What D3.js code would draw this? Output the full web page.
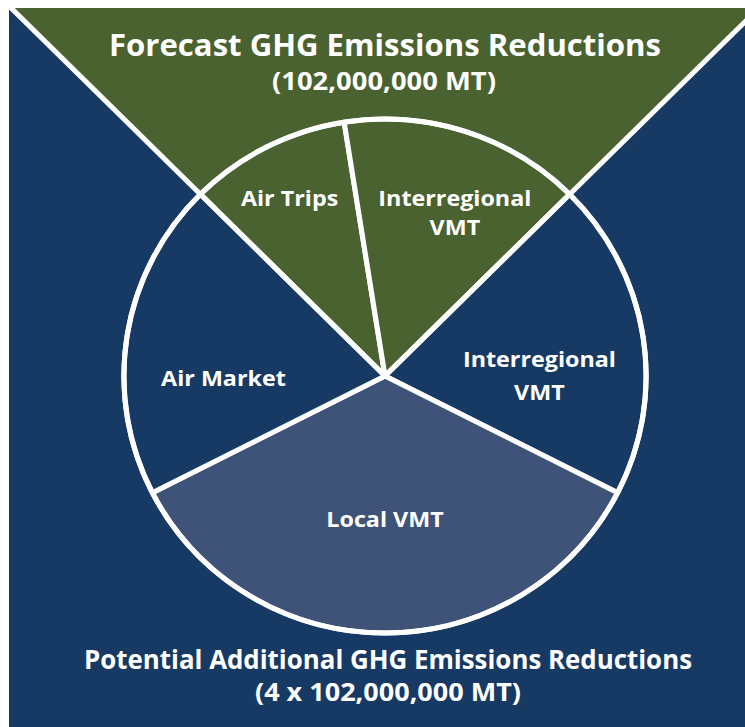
<!DOCTYPE html>
<html><head><meta charset="utf-8">
<script src="https://cdn.jsdelivr.net/npm/d3@7"></script>
<style>html,body{margin:0;padding:0;background:#fff;overflow:hidden} svg{display:block}</style>
</head><body><script>
// ---- data ----
const categories = ["Air Trips", "Interregional VMT", "Interregional VMT", "Local VMT", "Air Market"];
const labelLines = [["Air Trips"], ["Interregional", "VMT"], ["Interregional", "VMT"], ["Local VMT"], ["Air Market"]];
const shares = [10, 15, 20, 35, 20];            // percent of the circle
const groups = ["forecast", "forecast", "potential", "local", "potential"];
const topTitle = ["Forecast GHG Emissions Reductions", "(102,000,000 MT)"];
const bottomTitle = ["Potential Additional GHG Emissions Reductions", "(4 x 102,000,000 MT)"];

// ---- layout / style ----
const W = 745, H = 727;
const panel = {x: 9, y: 8, w: W - 9, h: H - 8};
const colors = {forecast: "#4a6230", potential: "#173a64", local: "#3f5378"};
const cx = 385, cy = 376, r = 257, sx = 1.016;
const labelAngleDeg = [-28, 23, 90, 180, -91];
const labelRadius = [200, 176, 152, 144, 159];
const labelLineH = [0, 29, 33, 0, 0];
const FONT = "'Open Sans', 'DejaVu Sans', sans-serif";

const svg = d3.select("body").append("svg").attr("width", W).attr("height", H);
svg.append("defs").append("clipPath").attr("id", "pclip")
  .append("rect").attr("x", panel.x).attr("y", panel.y).attr("width", panel.w).attr("height", panel.h);

const root = svg.append("g").attr("clip-path", "url(#pclip)");
root.append("rect").attr("x", panel.x).attr("y", panel.y).attr("width", panel.w).attr("height", panel.h)
  .attr("fill", colors.potential);

const g = root.append("g").attr("transform", `translate(${cx},${cy}) scale(${sx},1)`);

// forecast triangle (apex at the circle centre, along the ±45° slice edges)
const far = 900;
g.append("path")
  .attr("d", d3.line()([[0, 0], [-far, -far], [far, -far]]) + "Z")
  .attr("fill", colors.forecast);

// pie
const pie = d3.pie().sort(null).value(d => d)
  .startAngle(-Math.PI / 4).endAngle(7 * Math.PI / 4);
const arcs = pie(shares);
const arc = d3.arc().innerRadius(0).outerRadius(r);
g.selectAll("path.slice").data(arcs).join("path")
  .attr("class", "slice")
  .attr("d", arc)
  .attr("fill", (d, i) => colors[groups[i]])
  .attr("stroke", "#fff").attr("stroke-width", 5).attr("stroke-linejoin", "round");

// triangle edges extending beyond circle
[-1, 1].forEach(s => {
  g.append("line").attr("x1", 0).attr("y1", 0).attr("x2", s * far).attr("y2", -far)
    .attr("stroke", "#fff").attr("stroke-width", 5);
});
g.append("ellipse").attr("cx", 0).attr("cy", 0).attr("rx", r).attr("ry", r)
  .attr("fill", "none").attr("stroke", "#fff").attr("stroke-width", 5);

function addText(x, y, str, size, width) {
  const t = root.append("text").attr("x", x).attr("y", y)
    .attr("text-anchor", "middle").attr("fill", "#fff")
    .attr("font-family", FONT).attr("font-weight", 700).attr("font-size", size)
    .text(str);
  if (width) t.attr("textLength", width).attr("lengthAdjust", "spacingAndGlyphs");
  return t;
}

// titles
addText(385, 56, topTitle[0], 31, 552);
addText(384, 90, topTitle[1], 25, 224);
addText(388, 669, bottomTitle[0], 27, 608);
addText(388, 701, bottomTitle[1], 25, 266);

// slice labels (condensed so "Interregional" spans ~153px)
const labelTexts = [];
arcs.forEach((d, i) => {
  const a = labelAngleDeg[i] * Math.PI / 180;
  const x = cx + sx * labelRadius[i] * Math.sin(a);
  const y = cy - labelRadius[i] * Math.cos(a);
  const lines = labelLines[i];
  lines.forEach((ln, j) => {
    labelTexts.push(addText(x, y + 7 + (j - (lines.length - 1) / 2) * labelLineH[i], ln, 22));
  });
});
const kLab = 153 / labelTexts[1].node().getComputedTextLength();
labelTexts.forEach(t => {
  t.attr("textLength", t.node().getComputedTextLength() * kLab).attr("lengthAdjust", "spacingAndGlyphs");
});
</script></body></html>
